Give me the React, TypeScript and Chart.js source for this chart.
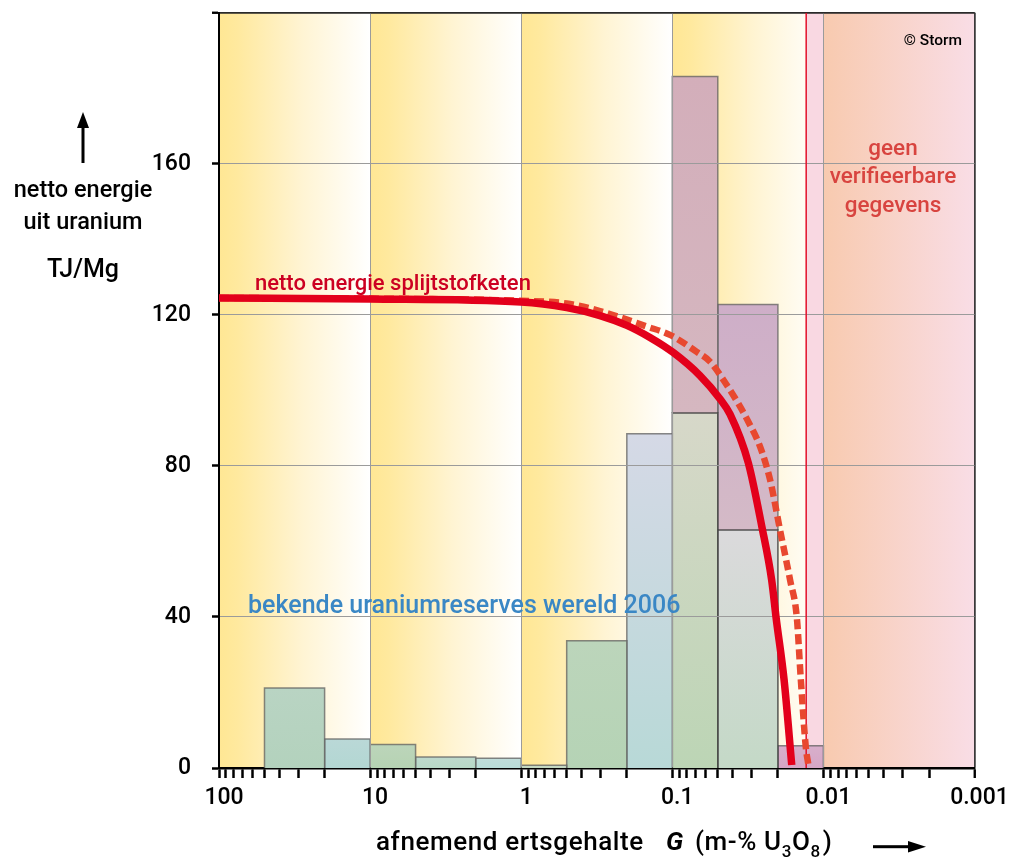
import React, { useEffect, useRef } from 'react';
import { Chart, registerables } from 'chart.js';

Chart.register(...registerables);

// ---------- data ----------
// grade bin edges (m-% U3O8), from high to low grade
const gradeEdges = [50, 20, 10, 5, 2, 1, 0.5, 0.2, 0.1, 0.05, 0.02, 0.01];
// known uranium reserves 2006 (lower part of each bin)
const reserveBase = [21.2, 7.7, 6.2, 2.9, 2.6, 0.7, 33.7, 88.5, 94.0, 63.0, 5.9];
// additional (upper, mauve) part of the bin
const reserveTopPart = [0, 0, 0, 0, 0, 0, 0, 0, 89.1, 59.7, 0];

// net energy of the nuclear fuel chain (solid curve)
const solidGrade = [100, 10, 1, 0.5, 0.301, 0.2, 0.1406, 0.0985, 0.0656, 0.0483, 0.0415, 0.0314, 0.0256, 0.022, 0.02056, 0.0182, 0.0162];
const solidEnergy = [124.45, 124.2, 123.4, 121.9, 119.8, 117.2, 114.0, 110.0, 103.9, 97.7, 93.7, 80.8, 64.1, 49.8, 39.8, 23.3, 0.8];

// dashed curve
const dashGrade = [100, 10, 1, 0.5, 0.301, 0.1477, 0.1036, 0.0689, 0.0563, 0.0436, 0.0367, 0.0314, 0.02625, 0.02254, 0.01936, 0.01662, 0.0150, 0.0141, 0.01308, 0.01257];
const dashEnergy = [124.45, 124.3, 123.7, 123.0, 121.0, 116.9, 114.7, 110.2, 107.6, 101.4, 96.6, 91.7, 85.1, 76.3, 63.0, 49.8, 39.9, 23.3, 5.6, 0.8];

// limit of verifiable data
const limitGrade = 0.013;

// background decade bands
const yellowBandEdges = [100, 10, 1, 0.1, 0.01];
const peachBand = [0.01, 0.001];

// axis ticks
const xTickValues = [100, 10, 1, 0.1, 0.01, 0.001];
const xTickLabels = ['100', '10', '1', '0.1', '0.01', '0.001'];
const yTickValues = [0, 40, 80, 120, 160, 200];
const yTickLabels = ['0', '40', '80', '120', '160', ''];

// ---------- styles ----------
const TEXT_FONT = "Roboto, 'Liberation Sans', Arial, sans-serif";
const TICK_FONT = "Roboto, 'Liberation Sans', sans-serif";

const barBottomColors = ['#B3D2BD', '#B3D7D3', '#B6D3B3', '#B8D8C6', '#BADDD8', '#C2D8C0', '#B5D3B5', '#B8D9D7', '#BCD5B5', '#C4D9C7', '#D5A6C6'];
const barTopColors = ['#B9D4C3', '#BAD8D7', '#BCD5BA', '#BED9CD', '#C1DDDA', '#C7D9C5', '#BCD5BB', '#D5D9E6', '#D7D8C9', '#DBDADC', '#D8AFCB'];
const upperBottomColors = ['', '', '', '', '', '', '', '', '#D5B7C0', '#D4BAC7', ''];
const upperTopColors = ['', '', '', '', '', '', '', '', '#D3AEBA', '#CEAEC8', ''];

const xMinorTicks: number[] = [];
for (const d of [0.001, 0.01, 0.1, 1, 10]) {
  for (let m = 1; m <= 9; m++) xMinorTicks.push(Number((m * d).toPrecision(6)));
}
xMinorTicks.push(100);

function vGradient(bottomColor: string, topColor: string, base: number, top: number) {
  return (ctx: any) => {
    const chart = ctx.chart;
    const ys = chart.scales && chart.scales.y;
    if (!ys || !chart.chartArea) return topColor;
    const g = chart.ctx.createLinearGradient(0, ys.getPixelForValue(base), 0, ys.getPixelForValue(top));
    g.addColorStop(0, bottomColor);
    g.addColorStop(1, topColor);
    return g;
  };
}

function buildDatasets() {
  const ds: any[] = [];
  for (let i = 0; i < reserveBase.length; i++) {
    const hi = gradeEdges[i];
    const lo = gradeEdges[i + 1];
    const v = reserveBase[i];
    ds.push({
      label: 'reserves-' + i,
      data: [{ x: hi, y: 0 }, { x: hi, y: v }, { x: lo, y: v }, { x: lo, y: 0 }],
      fill: 'origin',
      backgroundColor: vGradient(barBottomColors[i], barTopColors[i], 0, v),
      borderColor: reserveTopPart[i] > 0 ? 'rgba(60,60,60,0.85)' : 'rgba(95,95,95,0.75)',
      borderWidth: 1.5,
      pointRadius: 0,
      pointHitRadius: 0,
      tension: 0,
      order: 20,
    });
  }
  for (let i = 0; i < reserveTopPart.length; i++) {
    if (!reserveTopPart[i]) continue;
    const hi = gradeEdges[i];
    const lo = gradeEdges[i + 1];
    const b = reserveBase[i];
    const t = b + reserveTopPart[i];
    ds.push({
      label: 'reserves-top-' + i,
      data: [{ x: hi, y: b }, { x: hi, y: t }, { x: lo, y: t }, { x: lo, y: b }],
      fill: { value: b },
      backgroundColor: vGradient(upperBottomColors[i], upperTopColors[i], b, t),
      borderColor: 'rgba(95,95,95,0.75)',
      borderWidth: 1.5,
      pointRadius: 0,
      pointHitRadius: 0,
      tension: 0,
      order: 20,
    });
  }
  ds.push({
    label: 'limit',
    gridOver: true,
    data: [{ x: limitGrade, y: 0 }, { x: limitGrade, y: 200 }],
    borderColor: '#E3102A',
    borderWidth: 1.5,
    pointRadius: 0,
    pointHitRadius: 0,
    fill: false,
    order: 3,
  });
  ds.push({
    label: 'dashed',
    data: dashGrade.map((g, i) => ({ x: g, y: dashEnergy[i] })),
    borderColor: '#E8482F',
    borderWidth: 6.5,
    borderDash: [10, 5],
    pointRadius: 0,
    pointHitRadius: 0,
    fill: false,
    cubicInterpolationMode: 'monotone',
    order: 2,
  });
  ds.push({
    label: 'solid',
    data: solidGrade.map((g, i) => ({ x: g, y: solidEnergy[i] })),
    borderColor: '#E3001B',
    borderWidth: 7.5,
    pointRadius: 0,
    pointHitRadius: 0,
    fill: false,
    cubicInterpolationMode: 'monotone',
    order: 1,
  });
  return ds;
}

const decorPlugin = {
  id: 'decor',
  beforeDraw(chart: any) {
    const { ctx, chartArea } = chart;
    const xs = chart.scales.x;
    const top = chartArea.top;
    const h = chartArea.bottom - chartArea.top;
    const limitPx = xs.getPixelForValue(limitGrade);
    ctx.save();
    for (let i = 0; i < yellowBandEdges.length - 1; i++) {
      const x1 = xs.getPixelForValue(yellowBandEdges[i]);
      const x2 = xs.getPixelForValue(yellowBandEdges[i + 1]);
      const g = ctx.createLinearGradient(x1, 0, x2, 0);
      g.addColorStop(0, '#FFE794');
      g.addColorStop(0.12, '#FFE99E');
      g.addColorStop(0.55, '#FFF4D3');
      g.addColorStop(1, '#FFFFFF');
      ctx.fillStyle = g;
      const right = Math.min(x2, limitPx);
      ctx.fillRect(x1, top, right - x1, h);
    }
    const p1 = xs.getPixelForValue(peachBand[0]);
    ctx.fillStyle = '#F9D8E2';
    ctx.fillRect(limitPx, top, p1 - limitPx, h);
    const p2 = xs.getPixelForValue(peachBand[1]);
    const pg = ctx.createLinearGradient(p1, 0, p2, 0);
    pg.addColorStop(0, '#F8CAAF');
    pg.addColorStop(1, '#F9DDE6');
    ctx.fillStyle = pg;
    ctx.fillRect(p1, top, p2 - p1, h);
    ctx.restore();
  },
  beforeDatasetDraw(chart: any, args: any) {
    const d = chart.data.datasets[args.index];
    if (d && d.gridOver) {
      chart.scales.x.drawGrid(chart.chartArea);
      chart.scales.y.drawGrid(chart.chartArea);
    }
  },
  afterDraw(chart: any) {
    const ctx = chart.ctx;
    ctx.save();
    ctx.textBaseline = 'alphabetic';
    // y-axis title
    ctx.fillStyle = '#000';
    ctx.textAlign = 'center';
    ctx.font = `500 23.5px ${TEXT_FONT}`;
    ctx.fillText('netto energie', 75, 189);
    ctx.fillText('uit uranium', 75, 221);
    ctx.font = `500 25px ${TEXT_FONT}`;
    ctx.fillText('TJ/Mg', 75, 269);
    // up arrow
    ctx.fillRect(73.5, 117, 3, 38);
    ctx.beginPath();
    ctx.moveTo(75, 104);
    ctx.lineTo(69, 120);
    ctx.lineTo(81, 120);
    ctx.closePath();
    ctx.fill();

    // curve label
    ctx.textAlign = 'left';
    ctx.fillStyle = '#CC0022';
    ctx.font = `500 22px ${TEXT_FONT}`;
    ctx.fillText('netto energie splijtstofketen', 247, 282);

    // reserves label
    ctx.fillStyle = '#3A87C5';
    ctx.font = `500 25px ${TEXT_FONT}`;
    ctx.fillText('bekende uraniumreserves wereld 2006', 240, 605);

    // no data label
    ctx.fillStyle = '#D8443F';
    ctx.textAlign = 'center';
    ctx.font = `500 22.5px ${TEXT_FONT}`;
    ctx.fillText('geen', 885, 147);
    ctx.fillText('verifieerbare', 885, 175);
    ctx.fillText('gegevens', 885, 204);

    // copyright
    ctx.fillStyle = '#000';
    ctx.textAlign = 'right';
    ctx.font = `500 15.5px ${TEXT_FONT}`;
    ctx.fillText('\u00A9 Storm', 954, 37);

    // x-axis title
    ctx.textAlign = 'left';
    try { (ctx as any).letterSpacing = '0.6px'; } catch (e) { /* ignore */ }
    ctx.font = `500 26px ${TEXT_FONT}`;
    ctx.fillText('afnemend ertsgehalte', 368, 842);
    ctx.font = `italic bold 26px ${TEXT_FONT}`;
    ctx.fillText('G', 658, 842);
    ctx.font = `500 26px ${TEXT_FONT}`;
    let x = 687;
    ctx.fillText('(m-% U', x, 842);
    x += ctx.measureText('(m-% U').width;
    ctx.font = `500 17px ${TEXT_FONT}`;
    ctx.fillText('3', x, 849);
    x += ctx.measureText('3').width;
    ctx.font = `500 26px ${TEXT_FONT}`;
    ctx.fillText('O', x, 842);
    x += ctx.measureText('O').width;
    ctx.font = `500 17px ${TEXT_FONT}`;
    ctx.fillText('8', x, 849);
    x += ctx.measureText('8').width + 2;
    ctx.font = `500 26px ${TEXT_FONT}`;
    ctx.fillText(')', x, 842);
    try { (ctx as any).letterSpacing = '0px'; } catch (e) { /* ignore */ }

    // right arrow
    ctx.fillRect(865, 837.2, 37, 3);
    ctx.beginPath();
    ctx.moveTo(918, 838.7);
    ctx.lineTo(900, 833);
    ctx.lineTo(900, 844.4);
    ctx.closePath();
    ctx.fill();
    ctx.restore();
  },
};

export default function App() {
  const ref = useRef<HTMLCanvasElement | null>(null);
  useEffect(() => {
    if (!ref.current) return;
    document.body.style.overflow = 'hidden';
    const chart = new Chart(ref.current, {
      type: 'line',
      data: { datasets: buildDatasets() },
      options: {
        animation: false,
        responsive: false,
        maintainAspectRatio: false,
        layout: { padding: { top: 4.7, right: 36.5, left: 0, bottom: 0 } },
        plugins: { legend: { display: false }, tooltip: { enabled: false } },
        scales: {
          x: {
            type: 'logarithmic',
            reverse: true,
            min: 0.001,
            max: 100,
            afterBuildTicks: (s: any) => {
              s.ticks = xMinorTicks.map((v) => ({ value: v }));
            },
            afterFit: (s: any) => {
              s.height = 91;
              s.paddingLeft = 0;
              s.paddingRight = 0;
            },
            ticks: {
              autoSkip: false,
              maxRotation: 0,
              minRotation: 0,
              padding: 6,
              labelOffset: 5,
              color: '#000',
              font: { family: TICK_FONT, size: 23, weight: '500' },
              callback: (_v: any, index: number, ticks: any[]) => {
                const i = xTickValues.indexOf(ticks[index].value);
                return i >= 0 ? xTickLabels[i] : '';
              },
            },
            grid: {
              color: (c: any) => {
                const v = c.tick ? c.tick.value : null;
                if (v === 0.001) return '#3a3a3a';
                if (v === 100) return 'rgba(0,0,0,0)';
                return xTickValues.includes(v) ? '#9b9b9b' : 'rgba(0,0,0,0)';
              },
              lineWidth: (c: any) => (c.tick && c.tick.value === 0.001 ? 1.5 : 1),
              tickColor: '#000',
              tickLength: 10,
              tickWidth: 2,
            },
            border: { color: '#000', width: 2.5 },
          },
          y: {
            type: 'linear',
            min: 0,
            max: 200,
            afterBuildTicks: (s: any) => {
              s.ticks = yTickValues.map((v) => ({ value: v }));
            },
            afterFit: (s: any) => {
              s.width = 211;
              s.paddingTop = 0;
              s.paddingBottom = 0;
            },
            ticks: {
              padding: 21,
              color: '#000',
              font: { family: TICK_FONT, size: 23, weight: '500' },
              callback: (_v: any, index: number) => yTickLabels[index],
            },
            grid: {
              color: (c: any) => {
                const v = c.tick ? c.tick.value : null;
                if (v === 0) return 'rgba(0,0,0,0)';
                if (v === 200) return '#2a2a2a';
                return '#9b9b9b';
              },
              lineWidth: (c: any) => (c.tick && c.tick.value === 200 ? 1.5 : 1),
              tickColor: '#000',
              tickLength: 7,
              tickWidth: 2,
            },
            border: { color: '#000', width: 2 },
          },
        },
      } as any,
      plugins: [decorPlugin],
    });
    return () => chart.destroy();
  }, []);
  return (
    <div style={{ width: 1003, height: 851 }}>
      <canvas ref={ref} width={1003} height={851} style={{ display: 'block' }} />
    </div>
  );
}
